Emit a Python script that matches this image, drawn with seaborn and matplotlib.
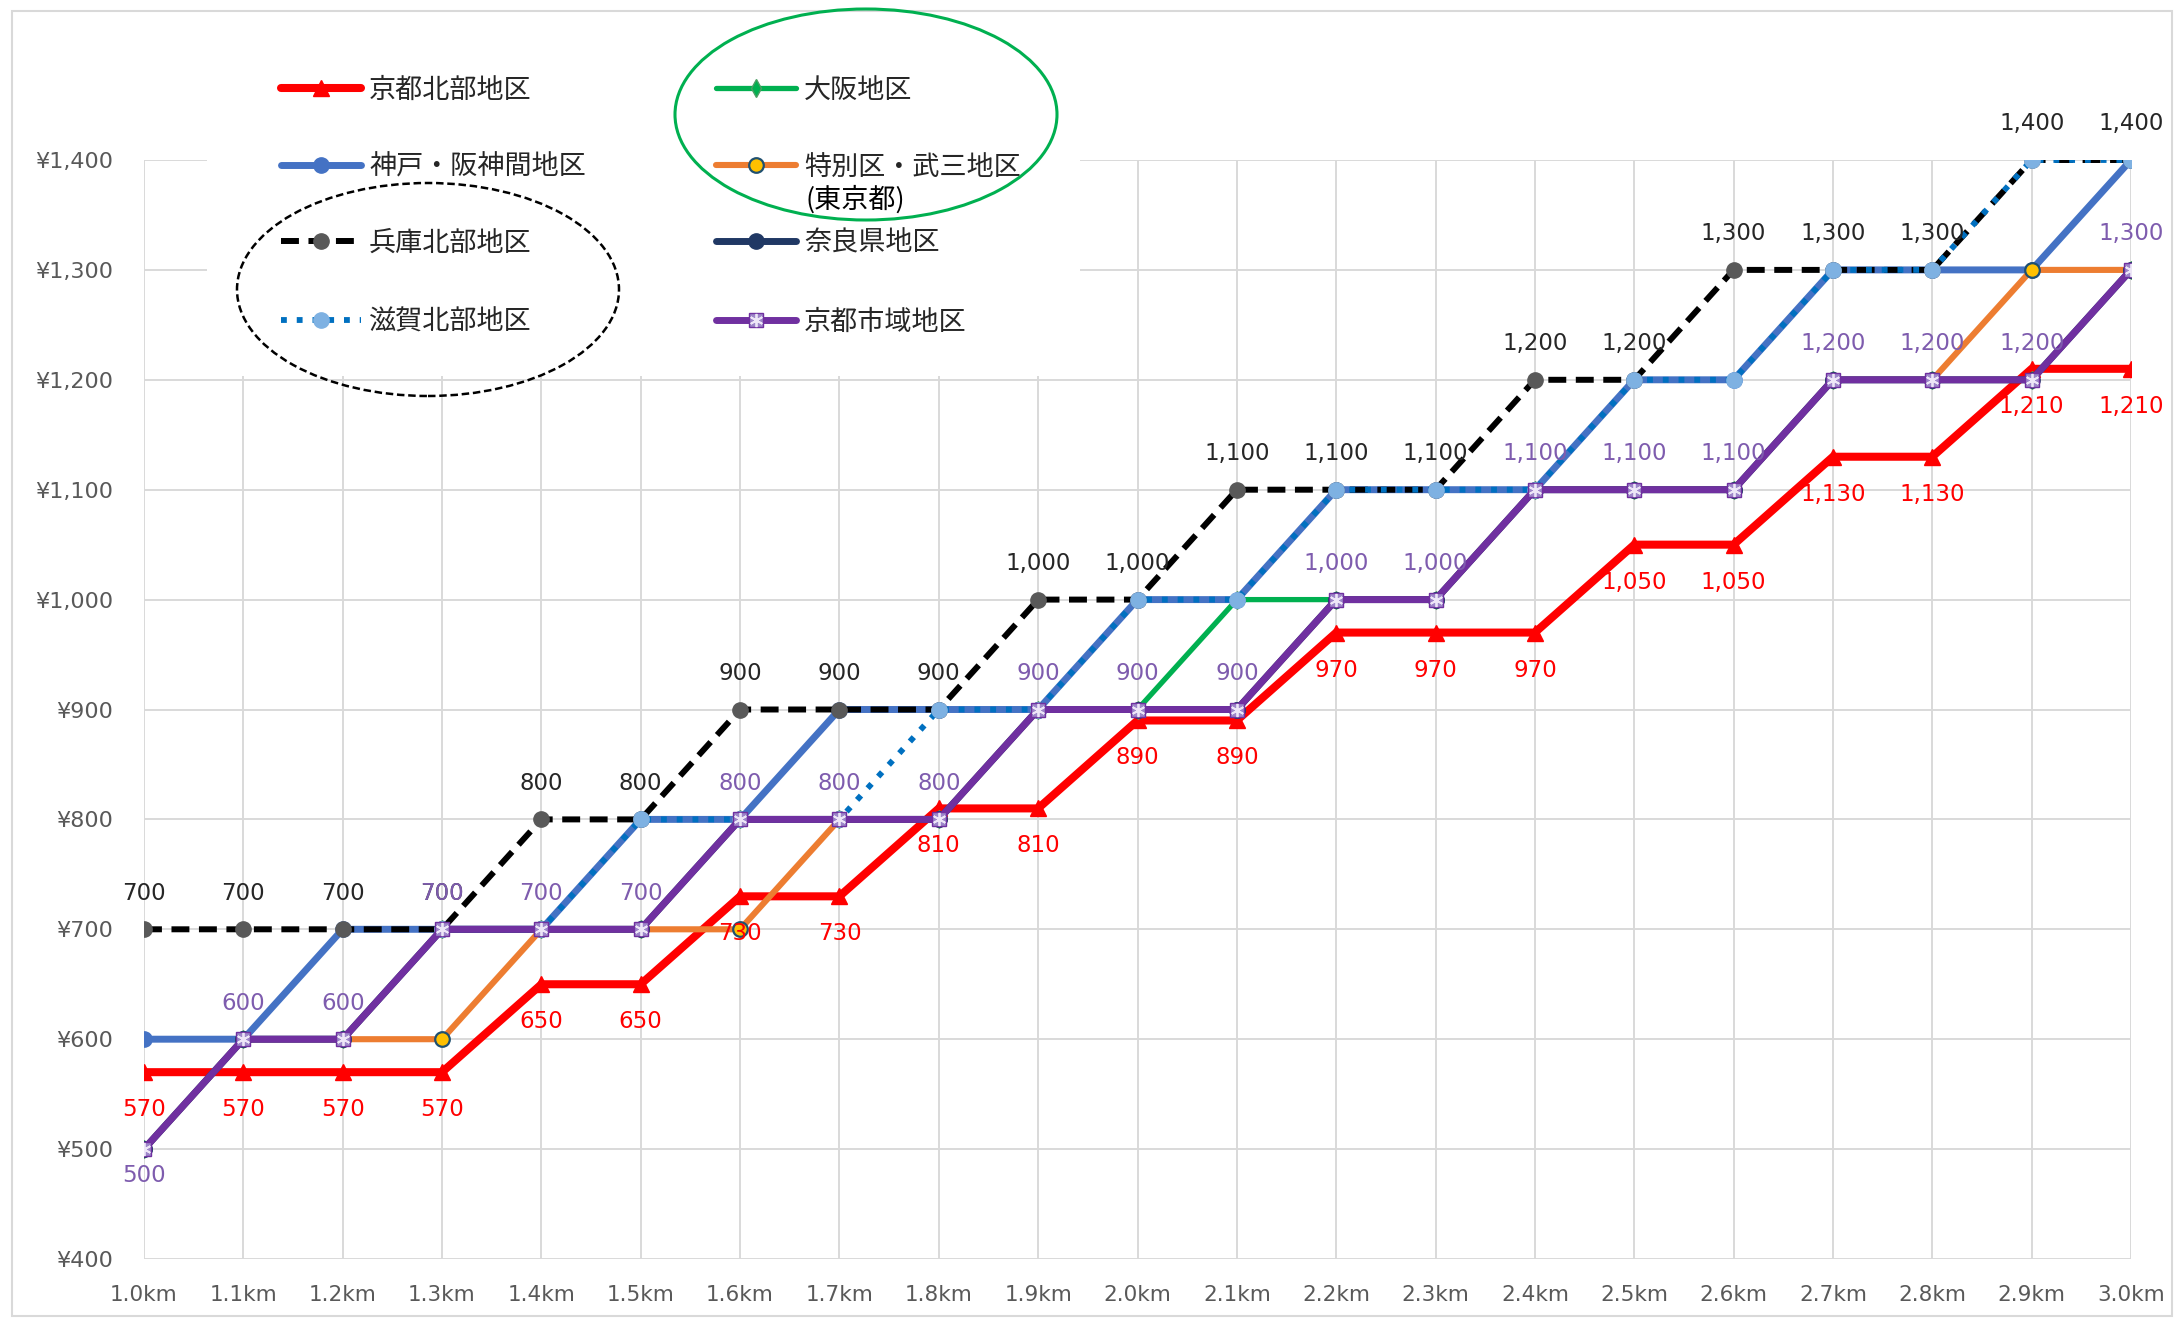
import numpy as np
import pandas as pd
import matplotlib
matplotlib.use("Agg")
import matplotlib.pyplot as plt
import seaborn as sns
from matplotlib.patches import Ellipse, Rectangle
from matplotlib.font_manager import FontProperties
from matplotlib.legend_handler import HandlerTuple

# ---------------- data ----------------
km = [1.0, 1.1, 1.2, 1.3, 1.4, 1.5, 1.6, 1.7, 1.8, 1.9, 2.0,
      2.1, 2.2, 2.3, 2.4, 2.5, 2.6, 2.7, 2.8, 2.9, 3.0]
km_labels = ["1.0km", "1.1km", "1.2km", "1.3km", "1.4km", "1.5km", "1.6km",
             "1.7km", "1.8km", "1.9km", "2.0km", "2.1km", "2.2km", "2.3km",
             "2.4km", "2.5km", "2.6km", "2.7km", "2.8km", "2.9km", "3.0km"]

kyoto_north = [570, 570, 570, 570, 650, 650, 730, 730, 810, 810, 890,
               890, 970, 970, 970, 1050, 1050, 1130, 1130, 1210, 1210]
osaka = [500, 600, 600, 700, 700, 700, 800, 800, 800, 900, 900,
         1000, 1000, 1000, 1100, 1100, 1100, 1200, 1200, 1200, 1300]
kobe = [600, 600, 700, 700, 700, 800, 800, 900, 900, 900, 1000,
        1000, 1100, 1100, 1100, 1200, 1200, 1300, 1300, 1300, 1400]
tokyo = [500, 600, 600, 600, 700, 700, 700, 800, 800, 900, 900,
         900, 1000, 1000, 1100, 1100, 1100, 1200, 1200, 1300, 1300]
hyogo_north = [700, 700, 700, 700, 800, 800, 900, 900, 900, 1000, 1000,
               1100, 1100, 1100, 1200, 1200, 1300, 1300, 1300, 1400, 1400]
nara = [500, 600, 600, 700, 700, 700, 800, 800, 800, 900, 900,
        900, 1000, 1000, 1100, 1100, 1100, 1200, 1200, 1200, 1300]
shiga_north = [np.nan, np.nan, np.nan, 700, 700, 800, 800, 800, 900, 900, 1000,
               1000, 1100, 1100, 1100, 1200, 1200, 1300, 1300, 1400, 1400]
kyoto_city = [500, 600, 600, 700, 700, 700, 800, 800, 800, 900, 900,
              900, 1000, 1000, 1100, 1100, 1100, 1200, 1200, 1200, 1300]

names = ["京都北部地区", "大阪地区", "神戸・阪神間地区", "特別区・武三地区",
         "兵庫北部地区", "奈良県地区", "滋賀北部地区", "京都市域地区"]

df = pd.DataFrame({
    "km": km,
    names[0]: kyoto_north,
    names[1]: osaka,
    names[2]: kobe,
    names[3]: tokyo,
    names[4]: hyogo_north,
    names[5]: nara,
    names[6]: shiga_north,
    names[7]: kyoto_city,
})

# ---------------- style ----------------
sns.set_theme(style="whitegrid")
plt.rcParams["font.family"] = ["DejaVu Sans", "Noto Sans CJK JP"]

W, H = 2179, 1319
fig = plt.figure(figsize=(W / 100, H / 100), dpi=100)
fig.patch.set_facecolor("white")

ax_left, ax_right, ax_top, ax_bottom = 144, 2131, 160, 1259
ax = fig.add_axes([ax_left / W, 1 - ax_bottom / H,
                   (ax_right - ax_left) / W, (ax_bottom - ax_top) / H])
ax.set_facecolor("white")

styles = {
    names[0]: dict(color="#FF0000", lw=5.8, marker="^", markersize=11.5,
                   markerfacecolor="#FF0000", markeredgecolor="#FF0000", mew=1),
    names[1]: dict(color="#00B050", lw=3.8, marker="d", markersize=9,
                   markerfacecolor="#00B050", markeredgecolor="#4C9E63", mew=1),
    names[2]: dict(color="#4472C4", lw=5.0, marker="o", markersize=11,
                   markerfacecolor="#4472C4", markeredgecolor="#4472C4", mew=1),
    names[3]: dict(color="#ED7D31", lw=4.4, marker="o", markersize=10.5,
                   markerfacecolor="#FFC000", markeredgecolor="#1F5070", mew=1.6),
    names[4]: dict(color="#000000", lw=4.3, linestyle=(0, (3, 1.6)), marker="o",
                   markersize=11, markerfacecolor="#595959",
                   markeredgecolor="#595959", mew=1),
    names[5]: dict(color="#203864", lw=5.0, marker="o", markersize=11,
                   markerfacecolor="#203864", markeredgecolor="#203864", mew=1),
    names[6]: dict(color="#0070C0", lw=4.2, linestyle=(0, (1, 1.7)), marker="o",
                   markersize=11, markerfacecolor="#7EB1E2",
                   markeredgecolor="#7EB1E2", mew=1),
    names[7]: dict(color="#7030A0", lw=5.0, marker="s", markersize=10.5,
                   markerfacecolor="#9D86C9", markeredgecolor="#7030A0", mew=1),
}

handles = {}
for z, name in enumerate(names):
    kw = dict(styles[name])
    sns.lineplot(data=df, x="km", y=name, ax=ax, estimator=None, errorbar=None,
                 zorder=3 + z, **kw)
    handles[name] = ax.lines[-1]

# asterisk overlay on the 京都市域地区 markers
sns.lineplot(data=df, x="km", y=names[7], ax=ax, estimator=None, errorbar=None,
             linestyle="", marker=(6, 2, 0), markersize=9.5,
             markeredgecolor="#EDE6F7", mew=1.3, color="#7030A0", zorder=11.5)
overlay = ax.lines[-1]

# ---------------- data labels ----------------
lab_fs = 16.5
for x, v in zip(km, hyogo_north):
    ax.annotate(f"{v:,}", (x, v), xytext=(0, 26), textcoords="offset points",
                ha="center", va="center", fontsize=lab_fs, color="#262626",
                zorder=20, annotation_clip=False)
for x, v in zip(km, kyoto_north):
    ax.annotate(f"{v:,}", (x, v), xytext=(0, -27), textcoords="offset points",
                ha="center", va="center", fontsize=lab_fs, color="#FF0000",
                zorder=21, annotation_clip=False)
for i, (x, v) in enumerate(zip(km, kyoto_city)):
    dy = -19 if i == 0 else 26
    ax.annotate(f"{v:,}", (x, v), xytext=(0, dy), textcoords="offset points",
                ha="center", va="center", fontsize=lab_fs, color="#7E5CAE",
                zorder=22, annotation_clip=False)

# ---------------- axes ----------------
ax.set_xlim(1.0, 3.0)
ax.set_ylim(400, 1400)
ax.set_xticks(km)
ax.set_xticklabels(km_labels)
yt = list(range(400, 1500, 100))
ax.set_yticks(yt)
ax.set_yticklabels([f"¥{v:,}" for v in yt])
ax.set_xlabel("")
ax.set_ylabel("")
ax.grid(True, color="#D9D9D9", lw=1.4)
ax.set_axisbelow(True)
for s in ax.spines.values():
    s.set_visible(False)
ax.tick_params(axis="x", length=0, pad=19, labelsize=15.5, labelcolor="#595959")
ax.tick_params(axis="y", length=0, pad=22, labelsize=16, labelcolor="#595959")

# ---------------- legend (Excel-like 2 columns, row-wise) ----------------
# white area behind the legend hides the gridlines
fig.patches.append(Rectangle((207 / W, 1 - 376 / H), (1080 - 207) / W, (376 - 16) / H,
                             transform=fig.transFigure, facecolor="white",
                             edgecolor="none", zorder=1))

leg_font = FontProperties(family=["Noto Sans CJK JP", "DejaVu Sans"], size=19.5)
col_x = [281, 716]
row_y = [90, 167, 243, 322]
layout = [
    (names[0], 0, 0), (names[1], 1, 0),
    (names[2], 0, 1), (names[3], 1, 1),
    (names[4], 0, 2), (names[5], 1, 2),
    (names[6], 0, 3), (names[7], 1, 3),
]
for name, c, r in layout:
    h = handles[name]
    if name == names[7]:
        h = (handles[name], overlay)
    leg = fig.legend(handles=[h], labels=[name], loc="center left",
                     bbox_to_anchor=(col_x[c] / W, 1 - row_y[r] / H),
                     frameon=False, borderpad=0, borderaxespad=0,
                     handlelength=2.95, handletextpad=0.3, prop=leg_font,
                     handler_map={tuple: HandlerTuple(ndivide=1, pad=0)})
    leg.set_zorder(6)
fig.text(805 / W, 1 - 200 / H, "(東京都)", fontproperties=leg_font,
         ha="left", va="center", color="#000000", zorder=7)

# annotation ellipses
fig.patches.append(Ellipse((866 / W, 1 - 114.5 / H), 382 / W, 211 / H,
                           transform=fig.transFigure, fill=False,
                           edgecolor="#00B050", lw=2.2, zorder=8))
fig.patches.append(Ellipse((428 / W, 1 - 289.5 / H), 382 / W, 213 / H,
                           transform=fig.transFigure, fill=False,
                           edgecolor="#000000", lw=1.8,
                           linestyle=(0, (3, 1.5)), zorder=8))

# outer chart border
fig.patches.append(Rectangle((12 / W, 3 / H), 2160 / W, 1305 / H,
                             transform=fig.transFigure, fill=False,
                             edgecolor="#D9D9D9", lw=1.5, zorder=2))

fig.savefig("out.png", dpi=100, facecolor="white")
